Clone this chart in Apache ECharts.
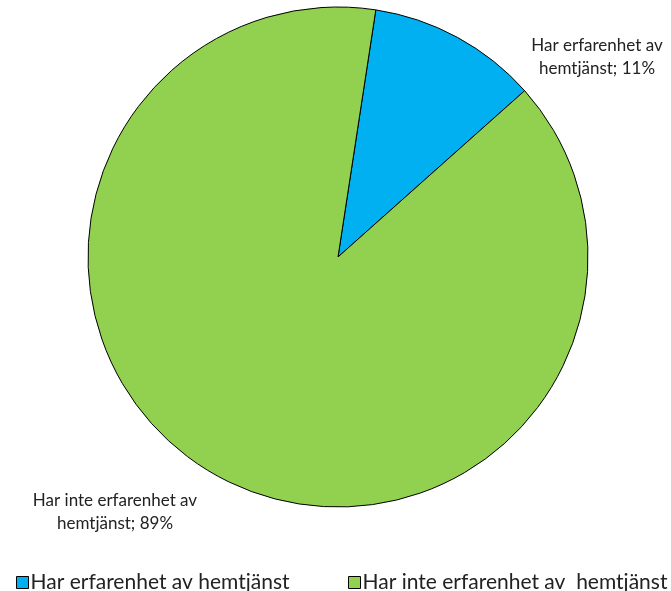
<!DOCTYPE html>
<html><head><meta charset="utf-8">
<script src="https://cdn.jsdelivr.net/npm/echarts@6/dist/echarts.min.js"></script>
<style>html,body{margin:0;padding:0;background:#fff}#c{width:671px;height:591px}</style>
</head><body><div id="c"></div>
<script>
const categories = ["Har erfarenhet av hemtjänst", "Har inte erfarenhet av  hemtjänst"];
const labelNames = ["Har erfarenhet av\nhemtjänst", "Har inte erfarenhet av\nhemtjänst"];
const values = [11, 89];
const colors = ["#00B0F0", "#92D050"];
const labelPos = [[597, 57], [115, 512]];
const font = "Lato, 'Open Sans', sans-serif";
const chart = echarts.init(document.getElementById('c'));
chart.setOption({
  animation: false,
  legend: [
    {data: [categories[0]], left: 11, top: 567, icon: 'rect', itemWidth: 12, itemHeight: 12,
     itemStyle: {borderColor: '#000', borderWidth: 1}, itemGap: 4,
     textStyle: {fontFamily: font, fontSize: 21, color: '#222', padding: [0,0,0,-3]}},
    {data: [categories[1]], left: 343, top: 567, icon: 'rect', itemWidth: 12, itemHeight: 12,
     itemStyle: {borderColor: '#000', borderWidth: 1},
     textStyle: {fontFamily: font, fontSize: 21, color: '#222', padding: [0,0,0,-3]}}
  ],
  series: [{
    type: 'pie',
    center: [338, 257],
    radius: [0, 250],
    startAngle: 81.3,
    clockwise: true,
    data: categories.map((n, i) => ({name: n, value: values[i], itemStyle: {color: colors[i]}})),
    itemStyle: {borderColor: '#000', borderWidth: 1},
    label: {
      show: true, position: 'outside',
      formatter: p => labelNames[p.dataIndex] + '; ' + p.value + '%',
      fontFamily: font, fontSize: 17, lineHeight: 23, color: '#222', align: 'center'
    },
    labelLine: {show: false},
    labelLayout: p => ({x: labelPos[p.dataIndex][0], y: labelPos[p.dataIndex][1], align: 'center', verticalAlign: 'middle'}),
    emphasis: {disabled: true}
  }]
});
</script></body></html>
